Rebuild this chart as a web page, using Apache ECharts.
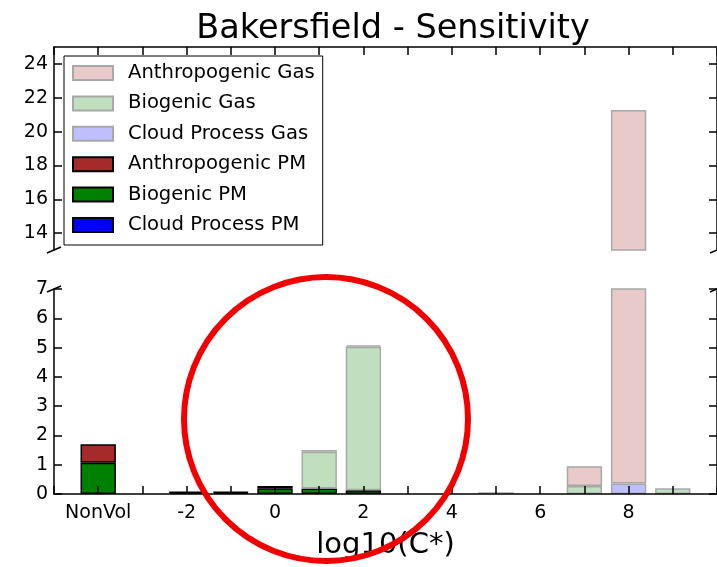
<!DOCTYPE html>
<html>
<head>
<meta charset="utf-8">
<script src="https://cdn.jsdelivr.net/npm/echarts@6/dist/echarts.min.js"></script>
<style>
  html, body { margin: 0; padding: 0; background: #fff; }
  #chart { width: 717px; height: 567px; }
</style>
</head>
<body>
<div id="chart"></div>
<script>
// Volatility bins, log10(C*)
const categories = ['NonVol', '-3', '-2', '-1', '0', '1', '2', '3', '4', '5', '6', '7', '8', '9'];
const tickLabels = ['NonVol', '-2', '0', '2', '4', '6', '8'];
const upperTicks = [14, 16, 18, 20, 22, 24];

// Mass in each bin, stacked bottom to top in this order
const biogenicPM      = [1.07, 0, 0.05, 0.05, 0.20, 0.19, 0.13, 0, 0, 0, 0, 0, 0, 0];
const anthropogenicPM = [0.63, 0, 0.02, 0.02, 0.07, 0, 0, 0, 0, 0, 0, 0, 0, 0];
const cloudProcessPM  = [0, 0, 0, 0, 0, 0, 0, 0, 0, 0, 0, 0, 0, 0];
const cloudProcessGas = [0, 0, 0, 0, 0, 0, 0, 0, 0, 0, 0, 0, 0.36, 0];
const biogenicGas     = [0, 0, 0, 0, 0, 1.25, 4.90, 0, 0, 0, 0, 0.27, 0, 0.20];
const anthropogenicGas = [0, 0, 0, 0, 0, 0.06, 0.05, 0, 0, 0.06, 0, 0.68, 20.92, 0];

const FONT = 'DejaVu Sans';

// one empty slot on each side so the spines sit a full bin away from the end bars;
// empty bins are left out so they draw no edge line
const axisCats = [''].concat(categories, ['']);
const pad = arr => [null].concat(arr.map(v => (v === 0 ? null : v)), [null]);

const layers = [
  { name: 'Biogenic PM',        data: biogenicPM,       fill: '#008000', edge: '#000' },
  { name: 'Anthropogenic PM',   data: anthropogenicPM,  fill: '#a52a2a', edge: '#000' },
  { name: 'Cloud Process PM',   data: cloudProcessPM,   fill: '#0000ff', edge: '#000' },
  { name: 'Cloud Process Gas',  data: cloudProcessGas,  fill: '#bfbfff', edge: '#a8a8a8' },
  { name: 'Biogenic Gas',       data: biogenicGas,      fill: '#bfdfbf', edge: '#a8a8a8' },
  { name: 'Anthropogenic Gas',  data: anthropogenicGas, fill: '#e9caca', edge: '#a8a8a8' }
];

const series = [];
[0, 1].forEach(g => {
  layers.forEach(l => {
    series.push({
      type: 'bar',
      name: l.name,
      xAxisIndex: g,
      yAxisIndex: g === 0 ? 0 : 2,
      stack: g === 0 ? 'upper' : 'lower',
      barWidth: '80%',
      clip: true,
      data: pad(l.data),
      itemStyle: { color: l.fill, borderColor: l.edge, borderWidth: 1.5 },
      emphasis: { disabled: true }
    });
  });
});

const spine = { show: true, onZero: false, lineStyle: { color: '#000', width: 1.5 } };
const tick = { show: true, inside: true, length: 8, lineStyle: { color: '#000', width: 1.5 } };
const labelStyle = { fontFamily: FONT, fontSize: 19, color: '#000' };

const chart = echarts.init(document.getElementById('chart'), null, { renderer: 'canvas' });

chart.setOption({
  animation: false,
  backgroundColor: '#fff',
  title: {
    text: 'Bakersfield - Sensitivity',
    left: 388,
    textAlign: 'center',
    top: 7,
    textStyle: { fontFamily: FONT, fontSize: 33.5, fontWeight: 'normal', color: '#000' }
  },
  legend: {
    data: ['Anthropogenic Gas', 'Biogenic Gas', 'Cloud Process Gas',
           'Anthropogenic PM', 'Biogenic PM', 'Cloud Process PM'],
    orient: 'vertical',
    left: 64,
    top: 56,
    itemWidth: 40,
    itemHeight: 14,
    itemGap: 10.4,
    icon: 'rect',
    padding: [7, 8, 10, 8],
    borderColor: '#000',
    borderWidth: 1,
    backgroundColor: '#fff',
    z: 10,
    selectedMode: false,
    textStyle: { fontFamily: FONT, fontSize: 19.6, color: '#000', lineHeight: 20, padding: [0, 0, 0, 10] }
  },
  grid: [
    { left: 54, top: 47, width: 669, height: 203 },
    { left: 54, top: 289, width: 669, height: 205 }
  ],
  xAxis: [
    {
      gridIndex: 0, type: 'category', data: axisCats, boundaryGap: false, position: 'top',
      axisLine: spine, axisTick: Object.assign({ interval: 0 }, tick),
      axisLabel: { show: false }, splitLine: { show: false }, z: 5
    },
    {
      gridIndex: 1, type: 'category', data: axisCats, boundaryGap: false, position: 'bottom',
      axisLine: spine, axisTick: Object.assign({ interval: 0 }, tick),
      axisLabel: Object.assign({
        interval: (idx, val) => tickLabels.includes(val),
        margin: 10
      }, labelStyle),
      splitLine: { show: false }, z: 5,
      name: 'log10(C*)', nameLocation: 'middle', nameGap: 37,
      nameTextStyle: { fontFamily: FONT, fontSize: 29, color: '#000' }
    }
  ],
  yAxis: [
    {
      gridIndex: 0, type: 'value', min: 13, max: 25, position: 'left',
      axisLine: spine,
      axisTick: Object.assign({ customValues: upperTicks }, tick),
      axisLabel: Object.assign({ customValues: upperTicks, margin: 6 }, labelStyle),
      splitLine: { show: false }, z: 5
    },
    {
      gridIndex: 0, type: 'value', min: 13, max: 25, position: 'right',
      axisLine: spine,
      axisTick: Object.assign({ customValues: upperTicks }, tick),
      axisLabel: { show: false }, splitLine: { show: false }, z: 5
    },
    {
      gridIndex: 1, type: 'value', min: 0, max: 7, interval: 1, position: 'left',
      axisLine: spine, axisTick: tick,
      axisLabel: Object.assign({ margin: 6 }, labelStyle),
      splitLine: { show: false }, z: 5
    },
    {
      gridIndex: 1, type: 'value', min: 0, max: 7, interval: 1, position: 'right',
      axisLine: spine, axisTick: tick,
      axisLabel: { show: false }, splitLine: { show: false }, z: 5
    }
  ],
  series: series
});

// Diagonal break marks where the two panels meet, plus the highlight ring
const ul = chart.convertToPixel({ gridIndex: 0 }, [0, 13]);
const ur = chart.convertToPixel({ gridIndex: 0 }, [axisCats.length - 1, 13]);
const ll = chart.convertToPixel({ gridIndex: 1 }, [0, 7]);
const lr = chart.convertToPixel({ gridIndex: 1 }, [axisCats.length - 1, 7]);
const brk = p => ({
  type: 'line', z: 20, silent: true,
  shape: { x1: p[0] - 7, y1: p[1] + 3, x2: p[0] + 7, y2: p[1] - 3 },
  style: { stroke: '#000', lineWidth: 1.5 }
});

chart.setOption({
  graphic: [
    brk(ul), brk(ur), brk(ll), brk(lr),
    {
      type: 'circle', z: 30, silent: true,
      shape: { cx: 326, cy: 419, r: 142 },
      style: { fill: 'none', stroke: '#f20000', lineWidth: 6 }
    }
  ]
});
</script>
</body>
</html>
